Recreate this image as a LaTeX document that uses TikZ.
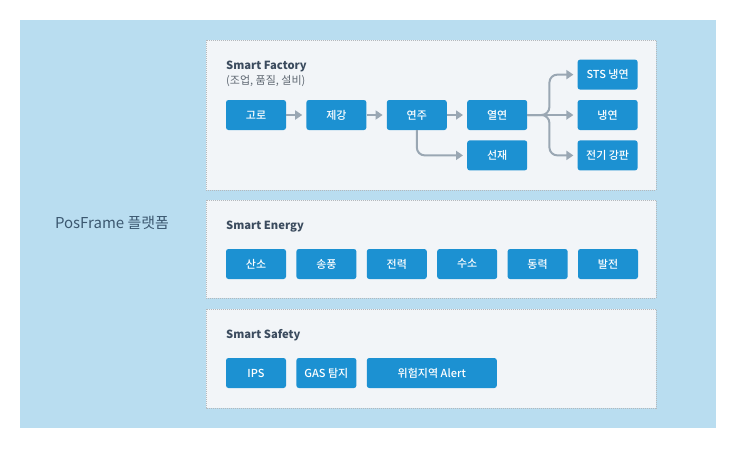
\documentclass[tikz,border=0pt]{standalone}
\usepackage{fontspec}
\setmainfont{Noto Sans CJK KR}
\newfontfamily\krmedium{Noto Sans CJK KR Medium}
\usetikzlibrary{positioning,arrows.meta}
\definecolor{bgblue}{HTML}{B9DDF0}
\definecolor{panelgray}{HTML}{F2F5F8}
\definecolor{dashgray}{HTML}{B4B8BC}
\definecolor{boxblue}{HTML}{1C91D2}
\definecolor{arrowgray}{HTML}{9AA7B3}
\definecolor{titlegray}{HTML}{3B4B5E}
\definecolor{subgray}{HTML}{5F6872}
\definecolor{platformblue}{HTML}{3C5870}
\tikzset{
  panel/.style={draw=dashgray, fill=panelgray, line width=0.8pt, dash pattern=on 1pt off 1pt},
  box/.style={fill=boxblue, rounded corners=2.5pt, minimum width=60pt, minimum height=30pt, inner sep=0pt,
    text=white, font=\fontsize{11}{11}\krmedium},
  title/.style={anchor=base west, inner sep=0pt, text=titlegray, font=\fontsize{11.2}{11}\selectfont\bfseries},
  flow/.style={draw=arrowgray, line width=2pt, shorten >=4pt, -{Triangle[length=7pt,width=9pt]}}
}
\begin{document}
\begin{tikzpicture}[x=1pt, y=-1pt, node distance=20pt]
\useasboundingbox (0,0) rectangle (736,448);
\fill[bgblue] (20,20) rectangle (716,428);
\node[text=platformblue, font=\fontsize{15}{15}\selectfont] (platform) at (112,223) {PosFrame 플랫폼};

\draw[panel] (206,40) rectangle (656,190);
\draw[panel] (206,200) rectangle (656,298);
\draw[panel] (206,309) rectangle (656,408);

\node[title] (factory) at (226,69) {Smart Factory};
\node[title, text=subgray, font=\fontsize{11}{11}\selectfont] (factorysub) at (226,84) {(조업, 품질, 설비)};
\node[box] (goro) at (256,115) {고로};
\node[box, right=of goro] (jegang) {제강};
\node[box, right=of jegang] (yeonju) {연주};
\node[box, right=of yeonju] (yeolyeon) {열연};
\node[box, below=10pt of yeolyeon] (seonjae) {선재};
\node[box, right=50pt of yeolyeon] (naengyeon) {냉연};
\node[box, above=10pt of naengyeon] (sts) {STS 냉연};
\node[box, below=10pt of naengyeon] (jeongi) {전기 강판};
\draw[flow] (goro) -- (jegang);
\draw[flow] (jegang) -- (yeonju);
\draw[flow] (yeonju) -- (yeolyeon);
\draw[flow, rounded corners=8pt] (yeonju.south) |- (seonjae.west);
\draw[flow] (yeolyeon) -- (naengyeon);
\draw[flow, rounded corners=8pt] (yeolyeon.east) -- ++(22,0) |- (sts.west);
\draw[flow, rounded corners=8pt] (yeolyeon.east) -- ++(22,0) |- (jeongi.west);

\node[title] (energy) at (226,229) {Smart Energy};
\node[box] (sanso) at (256,264) {산소};
\node[box, right=10pt of sanso] (songpung) {송풍};
\node[box, right=10pt of songpung] (jeonryeok) {전력};
\node[box, right=10pt of jeonryeok] (suso) {수소};
\node[box, right=10pt of suso] (dongryeok) {동력};
\node[box, right=10pt of dongryeok] (baljeon) {발전};

\node[title] (safety) at (226,338) {Smart Safety};
\node[box] (ips) at (256,373) {IPS};
\node[box, right=10pt of ips] (gas) {GAS 탐지};
\node[box, right=10pt of gas, minimum width=130pt] (alert) {위험지역 Alert};
\end{tikzpicture}
\end{document}
